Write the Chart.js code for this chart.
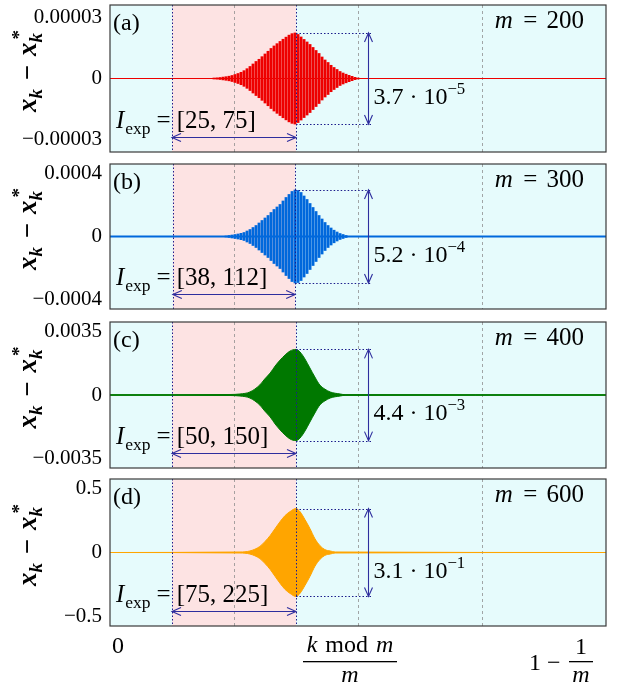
<!DOCTYPE html>
<html>
<head>
<meta charset="utf-8">
<script src="https://cdn.jsdelivr.net/npm/chart.js@4.4.0/dist/chart.umd.min.js"></script>
<style>
  body { margin: 0; background: #fff; }
  #wrap { position: relative; width: 622px; height: 693px; }
  .panel { position: absolute; left: 0; width: 622px; }
</style>
</head>
<body>
<div id="wrap">
  <div class="panel" style="top:0;height:157px"><canvas id="c0"></canvas></div>
  <div class="panel" style="top:159px;height:155px"><canvas id="c1"></canvas></div>
  <div class="panel" style="top:317px;height:156px"><canvas id="c2"></canvas></div>
  <div class="panel" style="top:474px;height:219px"><canvas id="c3"></canvas></div>
</div>
<script>
// ---- data ----
const panelNames = ["(a)", "(b)", "(c)", "(d)"];
const mValues = [200, 300, 400, 600];
const expIntervals = [[25, 75], [38, 112], [50, 150], [75, 225]];
const yLimits = [3.61e-5, 4.6e-4, 4.05e-3, 0.575];
const yTickValues = [[-3e-5, 0, 3e-5], [-4e-4, 0, 4e-4], [-3.5e-3, 0, 3.5e-3], [-0.5, 0, 0.5]];
const yTickLabels = [
  ["\u22120.00003", "0", "0.00003"],
  ["\u22120.0004", "0", "0.0004"],
  ["\u22120.0035", "0", "0.0035"],
  ["\u22120.5", "0", "0.5"]
];
const ampMantissa = ["3.7", "5.2", "4.4", "3.1"];
const ampExponent = ["\u22125", "\u22124", "\u22123", "\u22121"];
const gridX = [0.25, 0.5, 0.75];
const colors = ["#ee0000", "#0068dc", "#007800", "#ffa500"];
const baseWidths = [1, 2, 1.5, 1];

// (a) spikes, units of 1e-6
const spikeStartA = 0.2097, spikeStepA = 0.00605;
const spikeAmpA = [0.25, 0.34, 0.49, 0.69, 0.89, 1.13, 1.48, 1.97, 2.46, 3.05, 3.84, 4.82, 5.9, 7.13,
  8.36, 9.44, 10.72, 12.05, 13.38, 14.75, 15.98, 17.11, 18.2, 19.28, 20.31, 21.3, 22.03, 22.38,
  21.64, 20.41, 19.18, 17.95, 16.72, 15.25, 13.77, 12.3, 10.57, 9.1, 7.87, 6.49, 5.41, 4.43,
  3.44, 2.7, 2.11, 1.57, 1.08, 0.59, 0.25];
// (b) spikes, units of 1e-5
const spikeStartB = 0.2339, spikeStepB = 0.00605;
const spikeAmpB = [0.32, 0.63, 0.95, 1.27, 1.59, 2.03, 2.54, 3.49, 4.44, 5.71, 6.98, 8.57, 10.16,
  11.75, 13.33, 15.24, 17.14, 18.73, 20.32, 22.54, 24.76, 26.67, 28.57, 29.52, 29.21, 27.94,
  25.71, 23.49, 20.95, 18.41, 15.87, 13.33, 11.11, 8.89, 6.98, 5.4, 4.0, 2.86, 1.9, 1.27, 0.63];
// (c) envelope, units of 1e-3
const envXC = [0, 0.242, 0.262, 0.282, 0.302, 0.312, 0.323, 0.333, 0.343, 0.353, 0.363, 0.375,
  0.383, 0.393, 0.403, 0.413, 0.423, 0.433, 0.444, 0.464, 0.474, 1];
const envAmpC = [0, 0.028, 0.056, 0.167, 0.556, 0.89, 1.22, 1.61, 1.94, 2.22, 2.44, 2.53,
  2.39, 2.0, 1.5, 1.0, 0.556, 0.33, 0.167, 0.056, 0.017, 0];
// (d) envelope
const envXD = [0, 0.262, 0.282, 0.302, 0.3125, 0.323, 0.333, 0.343, 0.353, 0.363, 0.375, 0.383,
  0.393, 0.403, 0.413, 0.423, 0.433, 0.444, 0.454, 1];
const envAmpD = [0, 0.004, 0.012, 0.047, 0.086, 0.133, 0.188, 0.242, 0.289, 0.32, 0.344, 0.32,
  0.258, 0.188, 0.109, 0.055, 0.023, 0.012, 0.004, 0];

const arrowX = 0.52, boxEndX = 0.527;
const CYAN = "#e6fbfc", PINK = "#fde3e3", NAVY = "#1c1c8c", ARROW = "#2e2e9e";
const FAM = '"Liberation Serif", "Times New Roman", serif';

function fontStr(s, size) {
  let pre = "";
  if (s === "i") pre = "italic ";
  if (s === "bi") pre = "italic bold ";
  if (s === "b") pre = "bold ";
  return pre + size + "px " + FAM;
}

function drawRich(ctx, parts, x, y, size, align) {
  let w = 0;
  const items = parts.map(p => {
    const sz = (p.sub || p.sup) ? size * 0.7 : size;
    ctx.font = fontStr(p.s, sz);
    let pw = ctx.measureText(p.t).width;
    let pw2 = 0;
    if (p.t2) { ctx.font = fontStr(p.s2 || "n", sz); pw2 = ctx.measureText(p.t2).width; }
    const adv = Math.max(pw, pw2) + (p.gap || 0);
    w += adv;
    return { p, sz, adv };
  });
  let cx = align === "center" ? x - w / 2 : align === "right" ? x - w : x;
  ctx.textAlign = "left";
  ctx.textBaseline = "alphabetic";
  items.forEach(({ p, sz, adv }) => {
    ctx.font = fontStr(p.s, sz);
    const dy = p.sub ? size * 0.22 : p.sup ? -size * 0.4 : 0;
    ctx.fillText(p.t, cx + (p.dx || 0), y + dy);
    if (p.t2) {
      ctx.font = fontStr(p.s2 || "n", sz);
      ctx.fillText(p.t2, cx + (p.dx2 || 0), y - size * 0.42);
    }
    cx += adv;
  });
  return w;
}

function head(ctx, x, y, ang) {
  const len = 9, half = 4;
  const c = Math.cos(ang), s = Math.sin(ang);
  ctx.beginPath();
  ctx.moveTo(x - len * c - half * s, y - len * s + half * c);
  ctx.lineTo(x, y);
  ctx.lineTo(x - len * c + half * s, y - len * s - half * c);
  ctx.stroke();
}

function makePlugin(i, peak) {
  const m = mValues[i];
  const e0 = expIntervals[i][0] / m, e1 = expIntervals[i][1] / m;
  return {
    id: "panel" + i,
    beforeDraw(chart) {
      const { ctx, chartArea: a, scales: { x } } = chart;
      ctx.save();
      ctx.fillStyle = CYAN;
      ctx.fillRect(a.left, a.top, a.width, a.height);
      const p1 = x.getPixelForValue(e0), p2 = x.getPixelForValue(e1);
      ctx.fillStyle = PINK;
      ctx.fillRect(p1, a.top, p2 - p1, a.height);
      ctx.strokeStyle = "#909090";
      ctx.lineWidth = 0.8;
      ctx.setLineDash([3, 3]);
      gridX.forEach(v => {
        const px = Math.round(x.getPixelForValue(v)) + 0.5;
        ctx.beginPath(); ctx.moveTo(px, a.top); ctx.lineTo(px, a.bottom); ctx.stroke();
      });
      ctx.restore();
    },
    afterDatasetsDraw(chart) {
      const { ctx, chartArea: a, scales: { x, y } } = chart;
      ctx.save();
      // interval boundaries
      ctx.strokeStyle = NAVY;
      ctx.lineWidth = 1;
      ctx.setLineDash([1.5, 2]);
      [e0, e1].forEach(v => {
        const px = Math.round(x.getPixelForValue(v)) + 0.5;
        ctx.beginPath(); ctx.moveTo(px, a.top); ctx.lineTo(px, a.bottom); ctx.stroke();
      });
      // amplitude box
      const bx0 = x.getPixelForValue(e1), bx1 = x.getPixelForValue(boxEndX);
      [peak, -peak].forEach(v => {
        const py = Math.round(y.getPixelForValue(v)) + 0.5;
        ctx.beginPath(); ctx.moveTo(bx0, py); ctx.lineTo(bx1, py); ctx.stroke();
      });
      ctx.setLineDash([]);
      ctx.strokeStyle = ARROW;
      ctx.lineWidth = 1.1;
      // vertical arrow
      const ax = Math.round(x.getPixelForValue(arrowX)) + 0.5;
      const yt = y.getPixelForValue(peak), yb = y.getPixelForValue(-peak);
      ctx.beginPath(); ctx.moveTo(ax, yt); ctx.lineTo(ax, yb); ctx.stroke();
      head(ctx, ax, yt, -Math.PI / 2);
      head(ctx, ax, yb, Math.PI / 2);
      // horizontal arrow
      const hy = Math.round(a.bottom - 15) + 0.5;
      const hx0 = x.getPixelForValue(e0), hx1 = x.getPixelForValue(e1);
      ctx.beginPath(); ctx.moveTo(hx0, hy); ctx.lineTo(hx1, hy); ctx.stroke();
      head(ctx, hx0, hy, Math.PI);
      head(ctx, hx1, hy, 0);
      // texts
      ctx.fillStyle = "#000";
      drawRich(ctx, [{ t: panelNames[i], s: "n" }], a.left + 3, a.top + 25, 24, "left");
      drawRich(ctx, [{ t: "m", s: "i", gap: 4 }, { t: " = ", s: "n", gap: 3 }, { t: String(m), s: "n" }],
        a.left + 474, a.top + 23, 25, "right");
      drawRich(ctx, [{ t: "I", s: "i", gap: 1 }, { t: "exp", s: "n", sub: true, gap: 6 }, { t: "=", s: "n", gap: 6 },
        { t: "[" + expIntervals[i][0] + ", " + expIntervals[i][1] + "]", s: "n" }],
        a.left + 6, a.bottom - 24, 25, "left");
      drawRich(ctx, [{ t: ampMantissa[i] + " \u00b7 10", s: "n" }, { t: ampExponent[i], s: "n", sup: true }],
        bx1 + 2, y.getPixelForValue(0) + 25, 24, "left");
      // frame
      ctx.strokeStyle = "#3a3a3a";
      ctx.lineWidth = 1.2;
      ctx.strokeRect(a.left, a.top, a.width, a.height);
      // y title
      ctx.save();
      ctx.translate(36, (a.top + a.bottom) / 2 - 6);
      ctx.rotate(-Math.PI / 2);
      drawRich(ctx, [{ t: "x", s: "bi" }, { t: "k", s: "bi", sub: true, gap: 2 }, { t: " \u2212 ", s: "b", gap: 2 },
        { t: "x", s: "bi" }, { t: "k", s: "bi", sub: true, t2: "*", s2: "b", dx2: 3 }], 0, 0, 27, "center");
      ctx.restore();
      // x labels under last panel
      if (i === 3) {
        const b = a.bottom, l = a.left;
        drawRich(ctx, [{ t: "0", s: "n" }], l + 8, b + 27, 24, "center");
        drawRich(ctx, [{ t: "k", s: "i", gap: 2 }, { t: " mod ", s: "n", gap: 2 }, { t: "m", s: "i" }], l + 240, b + 26, 24, "center");
        ctx.fillRect(l + 193, b + 35, 94, 1.3);
        drawRich(ctx, [{ t: "m", s: "i" }], l + 240, b + 56, 24, "center");
        drawRich(ctx, [{ t: "1 \u2212", s: "n" }], l + 419, b + 44, 24, "left");
        drawRich(ctx, [{ t: "1", s: "n" }], l + 471, b + 28, 24, "center");
        ctx.fillRect(l + 459, b + 35, 24, 1.3);
        drawRich(ctx, [{ t: "m", s: "i" }], l + 471, b + 56, 24, "center");
      }
      ctx.restore();
    }
  };
}

function spikeData(amps, unit, start, step) {
  return amps.map((v, k) => ({ x: start + k * step, y: [-v * unit, v * unit] }));
}

const signals = [
  { kind: "spike", data: spikeData(spikeAmpA, 1e-6, spikeStartA, spikeStepA), peak: Math.max(...spikeAmpA) * 1e-6 },
  { kind: "spike", data: spikeData(spikeAmpB, 1e-5, spikeStartB, spikeStepB), peak: Math.max(...spikeAmpB) * 1e-5 },
  { kind: "env", xs: envXC, amps: envAmpC.map(v => v * 1e-3), peak: Math.max(...envAmpC) * 1e-3 },
  { kind: "env", xs: envXD, amps: envAmpD, peak: Math.max(...envAmpD) }
];
const bottomPads = [5, 5, 5, 67];

for (let i = 0; i < 4; i++) {
  const sig = signals[i];
  const col = colors[i];
  const datasets = [{
    type: "line",
    data: [{ x: 0, y: 0 }, { x: 1, y: 0 }],
    borderColor: col,
    borderWidth: baseWidths[i],
    pointRadius: 0,
    fill: false
  }];
  if (sig.kind === "spike") {
    datasets.push({
      type: "bar",
      data: sig.data,
      backgroundColor: col,
      borderWidth: 0,
      barThickness: 2.2,
      borderSkipped: false
    });
  } else {
    datasets.push({
      type: "line",
      data: sig.xs.map((v, k) => ({ x: v, y: sig.amps[k] })),
      borderColor: col,
      backgroundColor: col,
      borderWidth: 1,
      pointRadius: 0,
      cubicInterpolationMode: "monotone",
      fill: "+1"
    });
    datasets.push({
      type: "line",
      data: sig.xs.map((v, k) => ({ x: v, y: -sig.amps[k] })),
      borderColor: col,
      borderWidth: 1,
      pointRadius: 0,
      cubicInterpolationMode: "monotone",
      fill: false
    });
  }

  new Chart(document.getElementById("c" + i).getContext("2d"), {
    type: "line",
    data: { datasets: datasets },
    options: {
      responsive: true,
      maintainAspectRatio: false,
      animation: false,
      events: [],
      layout: { autoPadding: false, padding: { top: 5, bottom: bottomPads[i], left: 0, right: 16 } },
      plugins: { legend: { display: false }, tooltip: { enabled: false } },
      scales: {
        x: { type: "linear", min: 0, max: 1, offset: false, display: false },
        y: {
          min: -yLimits[i],
          max: yLimits[i],
          afterBuildTicks: (s) => { s.ticks = yTickValues[i].map(v => ({ value: v })); },
          afterFit: (s) => { s.width = 110; s.paddingTop = 0; s.paddingBottom = 0; },
          grid: { display: false, drawTicks: false },
          border: { display: false },
          ticks: {
            padding: 8,
            color: "#000",
            font: { family: FAM, size: 21 },
            callback: (v, idx) => yTickLabels[i][idx]
          }
        }
      }
    },
    plugins: [makePlugin(i, sig.peak)]
  });
}
</script>
</body>
</html>
